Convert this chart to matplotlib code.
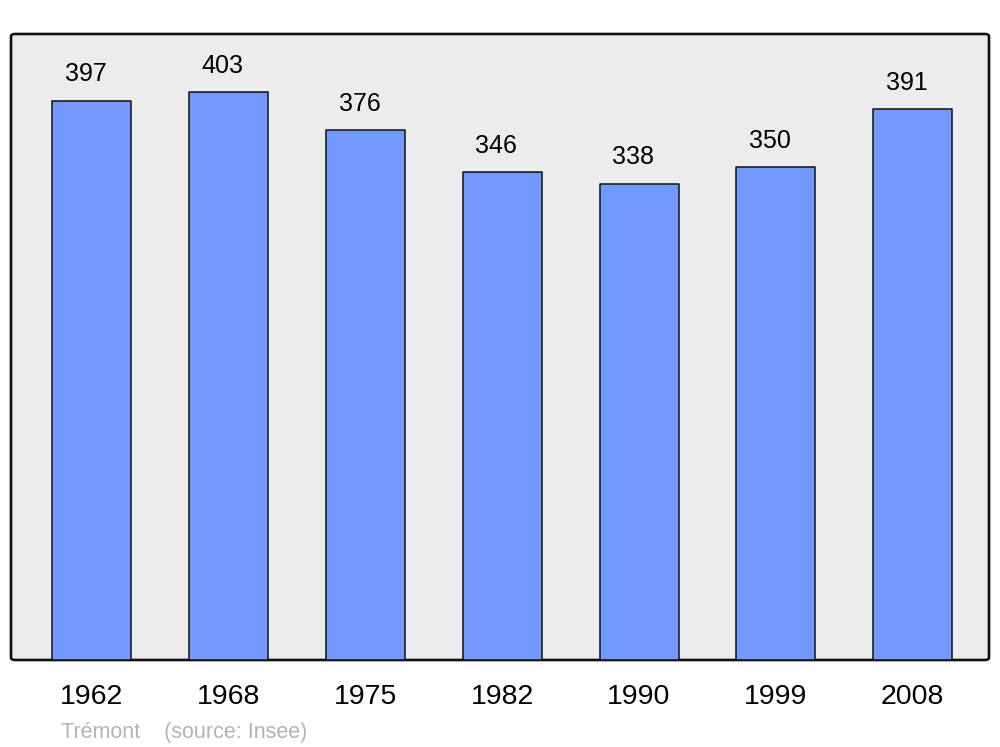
import matplotlib.pyplot as plt
from matplotlib.patches import FancyBboxPatch

annees = ["1962", "1968", "1975", "1982", "1990", "1999", "2008"]
population = [397, 403, 376, 346, 338, 350, 391]

plt.rcParams['font.family'] = ['Liberation Sans', 'DejaVu Sans']

fig = plt.figure(figsize=(10, 7.47), dpi=100)
ax = fig.add_axes([0.011, 87/747, 0.978, 626/747])
ax.set_facecolor('none')

# cadre arrondi
cadre = FancyBboxPatch((0, 0), 1, 1, boxstyle="round,pad=0,rounding_size=0.004",
                       transform=ax.transAxes, facecolor='#ececec', edgecolor='#111111',
                       linewidth=1.9, zorder=0, clip_on=False)
ax.add_patch(cadre)

x = range(len(annees))
barres = ax.bar(x, population, width=0.578, color='#7399ff', edgecolor='#111111',
                linewidth=1.1, zorder=2, joinstyle='round')

for xi, v in zip(x, population):
    ax.annotate(str(v), (xi, v), xytext=(-4.3, 13.8), textcoords='offset points',
                ha='center', va='baseline', fontsize=18, color='black')

ax.set_xlim(-0.591, 6.558)
ax.set_ylim(0, 444.2)
ax.set_xticks(list(x))
ax.set_xticklabels(annees, fontsize=20.5)
ax.tick_params(axis='x', length=0, pad=17)
ax.set_yticks([])
for s in ax.spines.values():
    s.set_visible(False)

fig.text(0.061, 9/747, "Trémont    (source: Insee)", fontsize=15.5, color='#b3b3b3',
         ha='left', va='baseline')

fig.savefig('out.png', dpi=100)
